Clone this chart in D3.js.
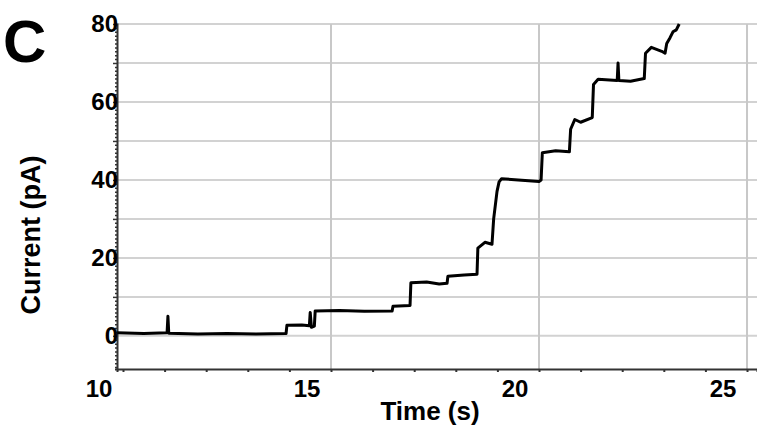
<!DOCTYPE html>
<html>
<head>
<meta charset="utf-8">
<script src="https://cdn.jsdelivr.net/npm/d3@7"></script>
<style>
  body { margin: 0; background: #fff; }
  svg text { font-family: "Liberation Sans", Arial, sans-serif; font-weight: bold; fill: #000; }
</style>
</head>
<body>
<div id="chart"></div>
<script>
// trace: time (s) and current (pA)
const timeS = [
  9.86, 10.5, 11.06, 11.08, 11.1, 11.8, 12.5, 13.2, 13.92,
  13.94, 14.3, 14.48, 14.5, 14.53, 14.6, 14.62, 15.2, 15.8, 16.47,
  16.49, 16.9, 16.92, 17.3, 17.6, 17.79, 17.81, 18.2, 18.51,
  18.53, 18.7, 18.87, 18.91, 18.99, 19.04, 19.1, 19.5, 20.0, 20.05,
  20.08, 20.4, 20.73, 20.76, 20.86, 21.0, 21.28, 21.31, 21.42, 21.88,
  21.9, 21.92, 22.2, 22.53, 22.56, 22.7, 22.95, 23.03, 23.07,
  23.15, 23.22, 23.3, 23.37
];
const currentPA = [
  0.8, 0.6, 0.8, 5.0, 0.7, 0.5, 0.6, 0.5, 0.6,
  2.7, 2.8, 2.6, 6.0, 2.2, 2.5, 6.4, 6.5, 6.3, 6.4,
  7.6, 7.8, 13.6, 13.8, 13.3, 13.5, 15.3, 15.6, 15.8,
  22.5, 24.0, 23.5, 30.0, 37.0, 39.5, 40.3, 40.0, 39.6, 40.0,
  47.0, 47.5, 47.2, 53.0, 55.5, 54.8, 56.0, 64.5, 65.8, 65.5,
  70.0, 65.5, 65.3, 66.0, 72.5, 74.0, 73.0, 72.5, 75.0,
  76.5, 78.0, 78.5, 80.0
];
const xTickLabels = [10, 15, 20, 25];
const yTickLabels = [0, 20, 40, 60, 80];
const yGridValues = [0, 10, 20, 30, 40, 50, 60, 70, 80];
const xGridValues = [15, 20, 25];

const W = 757, H = 428;
const plotLeft = 117, plotRight = 757, plotTop = 24, plotBottom = 369;

const svg = d3.select("#chart").append("svg")
  .attr("width", W).attr("height", H);

const x = d3.scaleLinear().domain([9.856, 25.24]).range([plotLeft, plotRight]);
const y = d3.scaleLinear().domain([-8.5, 80]).range([plotBottom, plotTop]);

// grid
svg.append("g").selectAll("line").data(yGridValues).join("line")
  .attr("x1", plotLeft).attr("x2", plotRight)
  .attr("y1", d => y(d)).attr("y2", d => y(d))
  .attr("stroke", "#d2d2d2").attr("stroke-width", 2);
svg.append("g").selectAll("line").data(xGridValues).join("line")
  .attr("x1", d => x(d)).attr("x2", d => x(d))
  .attr("y1", plotTop).attr("y2", plotBottom)
  .attr("stroke", "#c8c8c8").attr("stroke-width", 2);

// axes
const xAxis = svg.append("g")
  .attr("transform", `translate(0,${plotBottom})`)
  .call(d3.axisBottom(x).tickValues(d3.range(10, 26, 1)).tickSize(3).tickFormat(""));
xAxis.select(".domain").attr("stroke", "#333").attr("stroke-width", 2);
xAxis.selectAll(".tick line").attr("stroke", "#333").attr("stroke-width", 2);

const yAxis = svg.append("g")
  .attr("transform", `translate(${plotLeft},0)`)
  .call(d3.axisLeft(y).tickValues(d3.range(-8, 81, 1)).tickSize(2).tickFormat(""));
yAxis.select(".domain").attr("stroke", "#333").attr("stroke-width", 2);
yAxis.selectAll(".tick line").attr("stroke", "#333").attr("stroke-width", 1.5)
  .attr("x2", d => d % 10 === 0 ? -4 : -2);

// tick labels (offset to the left of their ticks as in the figure)
svg.append("g").selectAll("text").data(xTickLabels).join("text")
  .attr("x", d => x(d) - 24).attr("y", 397)
  .attr("text-anchor", "middle").attr("font-size", 24)
  .text(d => d);
svg.append("g").selectAll("text").data(yTickLabels).join("text")
  .attr("x", plotLeft + 1).attr("y", d => y(d) + 8)
  .attr("text-anchor", "end").attr("font-size", 24)
  .text(d => d);

// trace
const pts = timeS.map((t, i) => [t, currentPA[i]]);
svg.append("path").datum(pts)
  .attr("fill", "none").attr("stroke", "#000").attr("stroke-width", 3)
  .attr("stroke-linejoin", "round")
  .attr("d", d3.line().x(d => x(d[0])).y(d => y(d[1])));

// titles
svg.append("text").attr("x", 430).attr("y", 420)
  .attr("text-anchor", "middle").attr("font-size", 26).text("Time (s)");
svg.append("text")
  .attr("transform", `translate(40,235) rotate(-90)`)
  .attr("text-anchor", "middle").attr("font-size", 27).text("Current (pA)");
svg.append("text").attr("x", 3).attr("y", 62)
  .attr("font-size", 60).text("C");
</script>
</body>
</html>
